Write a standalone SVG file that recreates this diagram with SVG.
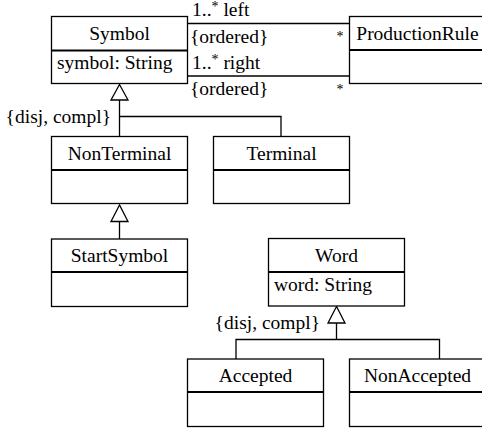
<svg xmlns="http://www.w3.org/2000/svg" width="482" height="429" viewBox="0 0 482 429" font-family="Liberation Serif, DejaVu Serif, serif" font-size="19.5">
<style>
  .name { text-anchor: middle; }
  .box { fill: #fff; stroke: #000; stroke-width: 1.3; }
  .div { stroke: #000; stroke-width: 2; }
  .line { fill: none; stroke: #000; stroke-width: 1.3; }
  .tri { fill: #fff; stroke: #000; stroke-width: 1.3; stroke-linejoin: miter; }
  .star { font-size: 14px; }
</style>
<rect x="0" y="0" width="482" height="429" fill="#fff"/>

<g id="connectors">
  <line class="line" x1="187.5" y1="23.5" x2="349.5" y2="23.5"/>
  <line class="line" x1="187.5" y1="76" x2="349.5" y2="76"/>
  <text x="192" y="16">1..<tspan class="star" dy="-5">*</tspan><tspan dy="5"> left</tspan></text>
  <text x="190" y="42.5">{ordered}</text>
  <text class="star" x="340" y="41" text-anchor="middle">*</text>
  <text x="192" y="68.5">1..<tspan class="star" dy="-5">*</tspan><tspan dy="5"> right</tspan></text>
  <text x="190" y="95">{ordered}</text>
  <text class="star" x="340" y="94" text-anchor="middle">*</text>

  <path class="line" d="M119.5 100 V136.5 M119.5 116.5 H281 V136.5"/>
  <polygon class="tri" points="119.5,84.5 111,100 128,100"/>
  <text x="111" y="123" text-anchor="end">{disj, compl}</text>

  <path class="line" d="M119.5 221.5 V239"/>
  <polygon class="tri" points="119.5,205 111,221.5 128,221.5"/>

  <path class="line" d="M336.5 323 V339.5 M236 359 V339.5 H439.5 V359"/>
  <polygon class="tri" points="336.5,306.5 328,323 345,323"/>
  <text x="320" y="329" text-anchor="end">{disj, compl}</text>
</g>

<g id="Symbol">
  <rect class="box" x="51.5" y="16.5" width="136" height="67"/>
  <line class="div" x1="51.5" y1="50.5" x2="187.5" y2="50.5"/>
  <text class="name" x="119.5" y="39.5">Symbol</text>
  <text x="57" y="68.5">symbol: String</text>
</g>

<g id="ProductionRule">
  <rect class="box" x="349.5" y="16.5" width="136" height="67"/>
  <line class="div" x1="349.5" y1="50" x2="485.5" y2="50"/>
  <text class="name" x="417.5" y="39.5">ProductionRule</text>
</g>

<g id="NonTerminal">
  <rect class="box" x="51.5" y="136.5" width="136" height="67"/>
  <line class="div" x1="51.5" y1="170" x2="187.5" y2="170"/>
  <text class="name" x="119.5" y="159.5">NonTerminal</text>
</g>

<g id="Terminal">
  <rect class="box" x="213.5" y="136.5" width="136" height="67"/>
  <line class="div" x1="213.5" y1="170" x2="349.5" y2="170"/>
  <text class="name" x="281.5" y="159.5">Terminal</text>
</g>

<g id="StartSymbol">
  <rect class="box" x="51.5" y="239" width="136" height="67.5"/>
  <line class="div" x1="51.5" y1="272" x2="187.5" y2="272"/>
  <text class="name" x="119.5" y="262">StartSymbol</text>
</g>

<g id="Word">
  <rect class="box" x="268.5" y="238.5" width="136" height="67.5"/>
  <line class="div" x1="268.5" y1="272" x2="404.5" y2="272"/>
  <text class="name" x="336.5" y="261.5">Word</text>
  <text x="274" y="291">word: String</text>
</g>

<g id="Accepted">
  <rect class="box" x="187.5" y="359" width="136" height="67.5"/>
  <line class="div" x1="187.5" y1="392" x2="323.5" y2="392"/>
  <text class="name" x="255.5" y="382">Accepted</text>
</g>

<g id="NonAccepted">
  <rect class="box" x="349.5" y="359" width="136" height="67.5"/>
  <line class="div" x1="349.5" y1="392" x2="485.5" y2="392"/>
  <text class="name" x="417.5" y="382">NonAccepted</text>
</g>
</svg>
